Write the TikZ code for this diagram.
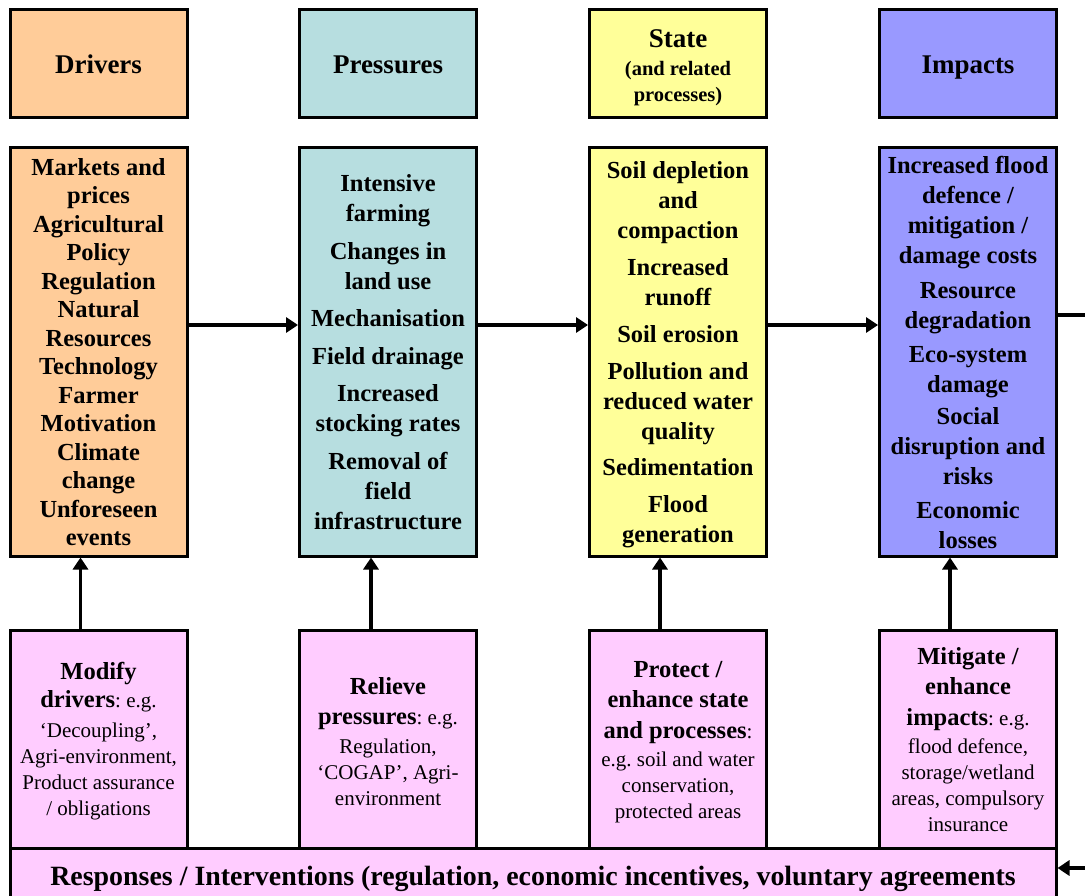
\documentclass[tikz,border=0pt]{standalone}
\usepackage{fontspec}
\setmainfont{Liberation Serif}
\usetikzlibrary{arrows.meta}
\definecolor{cdrv}{HTML}{FFCC99}
\definecolor{cprs}{HTML}{B7DEE0}
\definecolor{cst}{HTML}{FFFF99}
\definecolor{cimp}{HTML}{9999FF}
\definecolor{cresp}{HTML}{FFCCFF}
\newcommand{\bb}{\fontsize{24.5}{26}\selectfont\bfseries}
\frenchspacing
\begin{document}
\frenchspacing
\begin{tikzpicture}[x=1pt,y=-1pt,
 box/.style={draw=black, line width=3pt, inner sep=0pt, minimum width=177pt, align=center},
 head/.style={box, minimum height=108pt, font=\fontsize{27}{30}\selectfont\bfseries},
 mainbox/.style={box, minimum height=408pt, font=\fontsize{24.5}{30}\selectfont\bfseries},
 respbox/.style={box, fill=cresp, minimum height=218pt, font=\fontsize{21}{26}\selectfont},
 conn/.style={line width=3.2pt, -{Triangle[length=12pt,width=15pt]}},
 plain/.style={line width=3.2pt}]
\useasboundingbox (0,0) rectangle (1085,896);
\clip (0,0) rectangle (1085,896);
% headers
\node[head, fill=cdrv, text height=19pt, text depth=0pt] (hdrv) at (98.5,64) {Drivers};
\node[head, fill=cprs, text height=19pt, text depth=0pt] (hprs) at (388,64) {Pressures};
\node[head, fill=cst] (hst) at (678,64) {};
\node[align=center, inner sep=0pt, font=\fontsize{20.5}{26.5}\selectfont\bfseries] (hstt) at (678,68)
 {\fontsize{27}{26.5}\selectfont State\\[1pt]\fontsize{20.5}{26.5}\selectfont (and related\\processes)};
\node[head, fill=cimp, text height=19pt, text depth=0pt] (himp) at (968,64) {Impacts};
% main boxes
\node[mainbox, fill=cdrv, font=\fontsize{24.5}{28.5}\selectfont\bfseries] (drv) at (98.5,352)
 {Markets and\\prices\\Agricultural\\Policy\\Regulation\\Natural\\Resources\\Technology\\Farmer\\Motivation\\Climate\\change\\Unforeseen\\events};
\node[mainbox, fill=cprs] (prs) at (388,352)
 {Intensive\\farming\\[7.5pt]Changes in\\land use\\[7.5pt]Mechanisation\\[7.5pt]Field drainage\\[7.5pt]Increased\\stocking rates\\[7.5pt]Removal of\\field\\infrastructure};
\node[mainbox, fill=cst] (st) at (678,352) {};
\node[align=center, inner sep=0pt, font=\fontsize{24.5}{30}\selectfont\bfseries] (stt) at (678,355)
 {Soil depletion\\and\\compaction\\[7pt]Increased\\runoff\\[7pt]Soil erosion\\[7pt]Pollution and\\reduced water\\quality\\[6pt]Sedimentation\\[7pt]Flood\\generation};
\node[mainbox, fill=cimp] (imp) at (968,352)
 {Increased flood\\defence /\\mitigation /\\damage costs\\[5pt]Resource\\degradation\\[4pt]Eco-system\\damage\\[2pt]Social\\disruption and\\risks\\[4pt]Economic\\losses};
% response boxes
\node[respbox] (rdrv) at (98.5,739) {};
\node[align=center, inner sep=0pt, font=\fontsize{21}{26}\selectfont] (rdrvt) at (98.5,741.5)
 {{\bb Modify}\\[2pt]{\bb drivers}: e.g.\\[4pt]‘Decoupling’,\\Agri-environment,\\Product assurance\\/ obligations};
\node[respbox] (rprs) at (388,739) {};
\node[align=center, inner sep=0pt, font=\fontsize{21}{26}\selectfont] (rprst) at (388,741.5)
 {{\bb Relieve}\\[4pt]{\bb pressures}: e.g.\\[3pt]Regulation,\\‘COGAP’, Agri-\\environment};
\node[respbox] (rst) at (678,739) {};
\node[align=center, inner sep=0pt, font=\fontsize{21}{26}\selectfont] (rstt) at (678,742.5)
 {{\bb Protect /}\\[4pt]{\bb enhance state}\\[5pt]{\bb and processes}:\\[2pt]e.g. soil and water\\conservation,\\protected areas};
\node[respbox] (rimp) at (968,739) {};
\node[align=center, inner sep=0pt, font=\fontsize{21}{26}\selectfont] (rimpt) at (968,740)
 {{\bb Mitigate /}\\[4pt]{\bb enhance}\\[5pt]{\bb impacts}: e.g.\\[2pt]flood defence,\\storage/wetland\\areas, compulsory\\insurance};
\node[draw=black, line width=3pt, fill=cresp, inner sep=0pt, minimum width=1046pt, minimum height=60pt] (resp) at (533,878) {};
\node[inner sep=0pt, font=\fontsize{27.9}{30}\selectfont\bfseries] (respt) at (533,879)
 {Responses / Interventions (regulation, economic incentives, voluntary agreements};
% connectors
\coordinate (yh) at (0,325);
\draw[conn] (drv.east |- yh) -- (prs.west |- yh);
\draw[conn] (prs.east |- yh) -- (st.west |- yh);
\draw[conn] (st.east |- yh) -- (imp.west |- yh);
\coordinate (rt) at (1110,315);
\coordinate (rb) at (1110,868);
\draw[plain] (imp.east |- rt) -- (rt) -- (rb);
\draw[conn] (rb) -- (resp.east |- rb);
\draw[conn] ([xshift=-18pt]rdrv.north) -- ([xshift=-18pt]drv.south);
\draw[conn] ([xshift=-17pt]rprs.north) -- ([xshift=-17pt]prs.south);
\draw[conn] ([xshift=-18pt]rst.north) -- ([xshift=-18pt]st.south);
\draw[conn] ([xshift=-18pt]rimp.north) -- ([xshift=-18pt]imp.south);
\end{tikzpicture}
\end{document}
